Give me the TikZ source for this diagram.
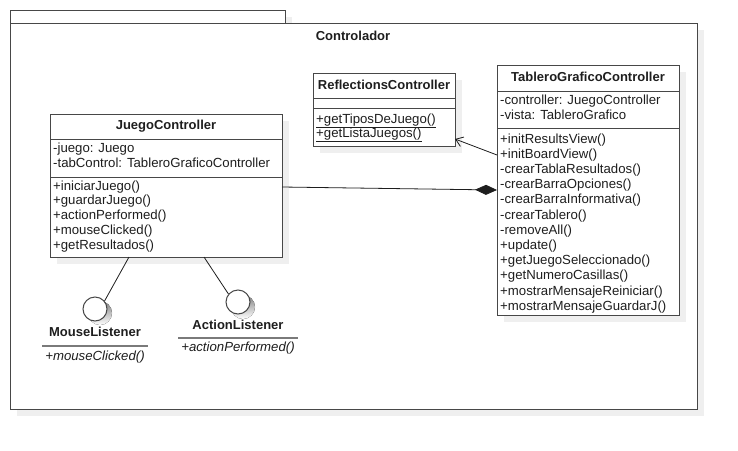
\documentclass[tikz,border=0pt]{standalone}
\usepackage{fontspec}
\setmainfont{Liberation Sans}
\usetikzlibrary{arrows.meta}
\definecolor{edge}{HTML}{474747}
\definecolor{shade}{HTML}{EFEFEF}
\definecolor{ink}{HTML}{1E1E1E}
\definecolor{rule}{HTML}{7A7A7A}
\tikzset{
  box/.style={draw=edge, line width=1pt, fill=white, inner sep=0pt, anchor=north west},
  shadowfill/.style={fill=shade, draw=none},
  divider/.style={draw=edge, line width=1pt},
  ttl/.style={font=\fontsize{13}{15}\selectfont\bfseries, text=ink, inner sep=0pt, text height=9.5pt, text depth=2.5pt},
  mem/.style={font=\fontsize{13.2}{15}\selectfont, text=ink, inner sep=0pt, anchor=west, text height=9pt, text depth=3pt},
  imem/.style={font=\fontsize{13.2}{15}\selectfont\itshape, text=ink, inner sep=0pt, text height=9pt, text depth=3pt},
  iface/.style={circle, draw=edge, line width=1pt, fill=white, minimum size=24pt, inner sep=0pt},
  link/.style={draw=ink, line width=0.8pt},
}
\begin{document}
\begin{tikzpicture}[x=1pt, y=-1pt]
\useasboundingbox[fill=white] (0,0) rectangle (738,450);

% package Controlador
\fill[shadowfill] (17,17) rectangle (292,30);
\fill[shadowfill] (17,30) rectangle (704,416);
\node[box, minimum width=275pt, minimum height=13pt] (tab) at (10,10) {};
\node[box, minimum width=687pt, minimum height=386pt] (pkg) at (10,23) {};
\node[ttl] (pkgname) at (353,37) {Controlador};

% ReflectionsController
\fill[shadowfill] (320,80) rectangle (462,153);
\node[box, minimum width=142pt, minimum height=73pt] (rc) at (313,73) {};
\node[ttl] (rct) at (384,86) {ReflectionsController};
\draw[divider] (313,98) -- (455,98);
\draw[divider] (313,108) -- (455,108);
\foreach \m [count=\i from 0] in {\underline{+getTiposDeJuego()}, \underline{+getListaJuegos()}}
  \node[mem] (rcm\i) at (316,120+14.5*\i) {\m};

% TableroGraficoController
\fill[shadowfill] (504,72) rectangle (686,322);
\node[box, minimum width=182pt, minimum height=250pt] (tgc) at (497,65) {};
\node[ttl] (tgct) at (588,78) {TableroGraficoController};
\draw[divider] (497,91) -- (679,91);
\draw[divider] (497,128) -- (679,128);
\foreach \m [count=\i from 0] in {-controller: JuegoController, -vista: TableroGrafico}
  \node[mem] (tgca\i) at (500,101+15*\i) {\m};
\foreach \m [count=\i from 0] in {+initResultsView(), +initBoardView(), -crearTablaResultados(),
    -crearBarraOpciones(), -crearBarraInformativa(), -crearTablero(), -removeAll(), +update(),
    +getJuegoSeleccionado(), +getNumeroCasillas(), +mostrarMensajeReiniciar(), +mostrarMensajeGuardarJ()}
  \node[mem] (tgcm\i) at (500,140+15.2*\i) {\m};

% JuegoController
\fill[shadowfill] (57,121) rectangle (289,264);
\node[box, minimum width=232pt, minimum height=143pt] (jc) at (50,114) {};
\node[ttl] (jct) at (166,126) {JuegoController};
\draw[divider] (50,139) -- (282,139);
\draw[divider] (50,177) -- (282,177);
\foreach \m [count=\i from 0] in {-juego: Juego, -tabControl: TableroGraficoController}
  \node[mem] (jca\i) at (53,149+15*\i) {\m};
\foreach \m [count=\i from 0] in {+iniciarJuego(), +guardarJuego(), +actionPerformed(),
    +mouseClicked(), +getResultados()}
  \node[mem] (jcm\i) at (53,187+14.8*\i) {\m};

% interfaces
\fill[shade] (100,313) circle (12pt);
\fill[shade] (243,307) circle (12pt);
\node[iface] (ml) at (95,309) {};
\node[iface] (al) at (238,302) {};
\node[ttl] (mlt) at (95,333) {MouseListener};
\draw[rule, line width=2pt] (42,346) -- (148,346);
\node[imem] (mlm) at (95,357) {+mouseClicked()};
\node[ttl] (alt) at (238,326) {ActionListener};
\draw[rule, line width=2pt] (178,338) -- (298,338);
\node[imem] (alm) at (238,348) {+actionPerformed()};

% connectors
\coordinate (jcml) at (129,257);
\coordinate (jcal) at (204,257);
\draw[link] (jcml) -- (ml.40);
\draw[link] (jcal) -- (al.140);
\coordinate (jcout) at (282,187);
\coordinate (tgcin) at (497,190);
\draw[link, -{Diamond[length=22pt, width=10pt]}] (jcout) -- (tgcin);
\coordinate (tgcdep) at (497,155);
\coordinate (rcin) at (455,139);
\draw[link, -{Straight Barb[length=7pt, width=10pt]}] (tgcdep) -- (rcin);
\end{tikzpicture}
\end{document}
